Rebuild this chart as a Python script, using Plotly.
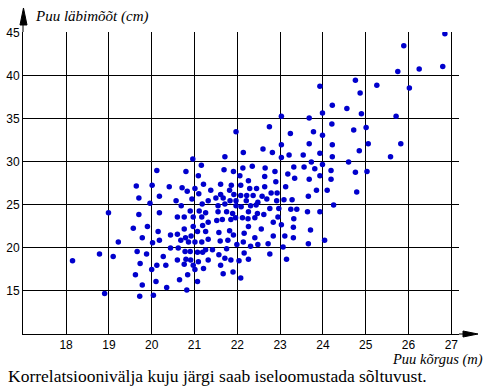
import plotly.graph_objects as go

# Tree height (m)
height_m = [
    19.64, 19.70, 18.99, 19.70, 19.57, 19.90, 19.78, 19.22, 19.66, 19.88, 18.78, 19.10, 18.15, 19.73, 19.62, 19.78, 18.90, 19.72, 19.96,
    20.96, 21.16, 20.12, 20.80, 21.09, 21.21, 20.01, 20.41, 20.71, 20.83, 21.01, 21.10, 20.18, 20.57, 20.94, 20.69, 21.18,
    20.18, 20.60, 20.76, 20.90, 21.11, 20.97, 21.17, 20.15, 20.44, 20.60, 20.76, 20.92, 21.07, 21.19, 20.97,
    20.02, 20.18, 20.68, 20.86, 21.01, 21.17, 20.79, 20.44, 20.62, 20.78, 20.90, 21.07, 21.19, 20.27, 20.60, 20.80, 20.91, 21.09,
    20.12, 20.33, 20.76, 20.97, 21.21, 20.00, 21.01, 20.84, 20.65, 20.10, 21.07, 20.35, 20.82, 20.04,
    21.97, 21.71, 22.14, 22.60, 21.69, 21.91, 22.13, 22.35, 22.65, 22.06, 22.26, 22.64, 21.61, 21.86, 22.08, 21.38, 21.82, 22.29,
    22.45, 22.64, 21.61, 21.92, 21.50, 21.67, 22.08, 22.22, 22.37, 22.58, 21.32, 21.83, 21.97, 22.21, 22.48, 21.55, 21.71, 21.97,
    22.09, 22.31, 22.44,
    21.26, 21.55, 21.75, 21.89, 22.26, 22.47, 21.32, 21.52, 21.65, 21.85, 21.96, 22.12, 22.25, 22.41, 22.62, 22.26, 21.26, 21.57,
    21.82, 21.91, 22.16, 22.56, 21.32, 21.60, 21.78, 22.14, 22.41, 21.99, 22.31, 22.48, 21.26, 21.42, 21.75, 21.57, 22.16, 21.32,
    21.71, 21.85, 22.04, 22.26, 21.61, 21.67, 21.90, 22.08,
    22.95, 23.32, 23.64, 23.93, 22.84, 23.03, 23.31, 23.71, 22.84, 23.11, 23.31, 22.72, 23.07, 23.66, 24.04, 22.76, 23.15,
    23.93, 23.03, 23.68, 23.99, 22.75, 23.24, 23.78, 23.99, 23.03, 23.68, 22.82, 23.21, 23.54, 23.93, 23.03, 23.73, 23.32, 23.56,
    23.81, 23.99, 22.88, 23.18, 23.34, 23.68, 23.93, 22.90, 23.13, 23.85, 24.10, 22.79, 22.93, 23.66, 22.69, 22.92, 23.09, 23.28,
    22.76, 22.97, 23.25, 23.39,
    26.85, 25.89, 25.75, 26.25, 26.80, 24.76, 25.26, 26.02, 24.87, 24.22, 24.56, 24.90, 25.71, 24.21, 24.72, 25.01, 25.06, 25.82,
    24.22, 24.85, 25.58, 24.22, 24.60, 24.19, 24.76, 25.03, 24.19, 24.79, 24.25,
]

# Tree diameter (cm)
diameter_cm = [
    27.2, 25.8, 24.1, 23.9, 22.3, 22.5, 21.2, 20.7, 19.6, 19.3, 19.3, 19.0, 18.5, 18.2, 16.9, 15.7, 14.7, 14.4, 25.2,
    30.35, 29.6, 29.0, 28.9, 28.4, 27.4, 27.3, 27.1, 27.0, 26.6, 26.9, 26.3, 26.0, 25.5, 25.7, 24.9, 25.1,
    24.1, 23.6, 23.6, 24.3, 24.3, 23.6, 23.6, 21.9, 21.5, 21.6, 22.2, 21.4, 21.9, 22.6, 22.5,
    20.6, 20.9, 20.9, 20.7, 20.7, 20.7, 21.2, 20.0, 20.0, 19.6, 19.6, 19.5, 19.5, 19.0, 18.6, 18.7, 18.6, 18.4,
    18.0, 18.0, 18.1, 18.0, 17.6, 17.5, 17.5, 16.9, 16.3, 16.1, 16.1, 15.4, 15.1, 14.5,
    33.5, 30.6, 31.1, 31.5, 29.1, 28.9, 29.3, 29.5, 29.3, 28.4, 27.8, 28.3, 27.4, 27.3, 27.3, 26.7, 26.7, 26.9,
    26.9, 27.1, 26.2, 26.2, 25.8, 25.8, 26.1, 26.1, 26.1, 26.0, 25.5, 25.5, 25.5, 25.5, 25.3, 24.9, 25.1, 24.9,
    24.8, 24.9, 25.0,
    24.1, 24.2, 24.2, 24.0, 24.2, 24.0, 23.0, 23.2, 23.3, 23.3, 23.5, 23.5, 23.4, 23.5, 23.9, 22.5, 21.9, 21.8,
    22.0, 21.5, 21.7, 22.2, 21.0, 20.8, 20.9, 20.7, 21.2, 20.4, 20.2, 20.4, 19.8, 19.8, 19.9, 19.2, 19.4, 18.6,
    18.8, 18.6, 18.5, 18.7, 18.0, 17.0, 17.2, 16.5,
    23.6, 23.4, 24.2, 24.2, 23.0, 22.7, 22.4, 22.1, 21.4, 21.4, 21.2, 20.5, 20.1, 20.5, 20.9, 19.3, 18.7,
    38.8, 35.3, 35.1, 35.7, 34.1, 33.3, 33.5, 33.1, 32.0, 32.1, 31.1, 30.8, 30.8, 31.0, 30.5, 30.0, 29.4, 29.4,
    29.2, 29.7, 28.9, 28.6, 28.1, 28.0, 28.4, 27.7, 27.1, 26.7, 26.7, 26.4, 26.4, 26.0, 25.7, 25.5, 25.6, 25.6,
    24.6, 24.6, 24.5, 24.5,
    44.9, 43.5, 40.5, 40.8, 41.1, 39.5, 38.9, 38.6, 38.0, 36.6, 36.2, 35.6, 35.3, 34.4, 33.7, 34.0, 32.1, 32.1,
    32.0, 31.3, 30.6, 30.6, 30.0, 29.0, 28.8, 28.9, 28.0, 26.5, 25.0,
]

x_ticks = [18, 19, 20, 21, 22, 23, 24, 25, 26, 27]
y_ticks = [15, 20, 25, 30, 35, 40, 45]

x_title = "Puu kõrgus (m)"
y_title = "Puu läbimõõt (cm)"
caption = "Korrelatsioonivälja kuju järgi saab iseloomustada sõltuvust."

fig = go.Figure()
fig.add_trace(go.Scatter(
    x=height_m, y=diameter_cm, mode="markers",
    marker=dict(color="#0000CD", size=5.5, line=dict(width=0)),
    hoverinfo="x+y", showlegend=False,
))

axis_common = dict(
    showgrid=True, gridcolor="black", gridwidth=1,
    showline=True, linecolor="black", linewidth=1,
    zeroline=False, ticks="", mirror=False, automargin=False,
    tickfont=dict(family="Liberation Sans, Arial, sans-serif", size=12, color="black"),
)

fig.update_layout(
    width=497, height=386,
    margin=dict(l=23, r=38, t=32, b=52, pad=0),
    paper_bgcolor="white", plot_bgcolor="white",
    xaxis=dict(range=[16.993, 27.18], tickvals=x_ticks, ticktext=[str(v) for v in x_ticks], **axis_common),
    yaxis=dict(range=[10, 45.1], tickvals=y_ticks, ticktext=[str(v) for v in y_ticks], **axis_common),
    shapes=[
        # y-axis extension and arrowhead
        dict(type="line", xref="paper", yref="paper", x0=0, x1=0, y0=1, y1=1.04,
             line=dict(color="black", width=1)),
        dict(type="path", xref="paper", yref="paper",
             path="M -0.0069 1.0232 L 0.0011 1.0795 L 0.0092 1.0232 Z",
             fillcolor="black", line=dict(color="black", width=1)),
        # x-axis extension and arrowhead
        dict(type="line", xref="paper", yref="paper", x0=1, x1=1.02, y0=0, y1=0,
             line=dict(color="black", width=1)),
        dict(type="path", xref="paper", yref="paper",
             path="M 1.0092 0.0099 L 1.0436 0 L 1.0092 -0.0099 Z",
             fillcolor="black", line=dict(color="black", width=1)),
    ],
    annotations=[
        dict(text=y_title, xref="paper", yref="paper", x=0.0229, y=1.0497,
             xanchor="left", yanchor="middle", showarrow=False,
             font=dict(family="Liberation Serif, Times New Roman, serif", size=15, color="black", style="italic")),
        dict(text=x_title, xref="paper", yref="paper", x=1.0596, y=-0.084,
             xanchor="right", yanchor="middle", showarrow=False,
             font=dict(family="Liberation Serif, Times New Roman, serif", size=14.5, color="black", style="italic")),
        dict(text=caption, xref="paper", yref="paper", x=-0.039, y=-0.1375,
             xanchor="left", yanchor="middle", showarrow=False,
             font=dict(family="Liberation Serif, Times New Roman, serif", size=17.5, color="black")),
    ],
)

fig.write_html(
    "out.html",
    config={"displayModeBar": False},
    post_script="document.body.style.margin='0';document.body.style.padding='0';document.body.style.overflow='hidden';",
)
